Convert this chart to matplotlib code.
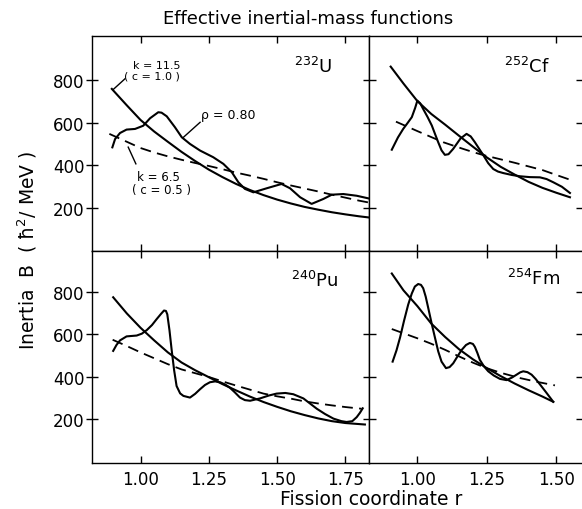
import numpy as np
import matplotlib
matplotlib.use("Agg")
import matplotlib.pyplot as plt
from matplotlib.ticker import FormatStrFormatter

plt.rcParams["font.family"] = ["DejaVu Sans"]
plt.rcParams["mathtext.default"] = "regular"

# ---- data (r, B in hbar^2/MeV) ----
# 232U
u_smooth_r = [0.895, 0.95, 1.00, 1.05, 1.10, 1.15, 1.20, 1.25, 1.30, 1.35, 1.40,
              1.45, 1.50, 1.55, 1.60, 1.65, 1.70, 1.75, 1.80, 1.833]
u_smooth_b = [757, 680, 612, 558, 510, 463, 420, 380, 345, 313, 285,
              261, 240, 222, 206, 193, 181, 171, 162, 157]
u_dash_r = [0.886, 0.95, 1.00, 1.05, 1.10, 1.15, 1.20, 1.25, 1.30, 1.35, 1.40,
            1.45, 1.50, 1.55, 1.60, 1.65, 1.70, 1.75, 1.80, 1.833]
u_dash_b = [547, 510, 481, 460, 442, 426, 411, 397, 382, 366, 352,
            337, 321, 306, 292, 278, 263, 249, 235, 227]
u_wig_r = [0.897, 0.907, 0.925, 0.949, 0.980, 1.010, 1.035, 1.065, 1.077, 1.096,
           1.126, 1.151, 1.181, 1.218, 1.266, 1.303, 1.334, 1.358, 1.382, 1.413,
           1.462, 1.516, 1.547, 1.584, 1.626, 1.669, 1.700, 1.742, 1.791, 1.833]
u_wig_b = [484, 523, 551, 567, 570, 585, 620, 648, 646, 629,
           578, 531, 500, 469, 438, 407, 368, 321, 290, 274,
           293, 313, 293, 251, 220, 243, 263, 266, 258, 246]

# 252Cf
cf_smooth_r = [0.904, 0.95, 1.00, 1.05, 1.10, 1.15, 1.20, 1.25, 1.30, 1.35, 1.40,
               1.45, 1.50, 1.549]
cf_smooth_b = [861, 782, 700, 640, 590, 538, 487, 437, 393, 357, 323,
               295, 272, 251]
cf_dash_r = [0.923, 1.00, 1.05, 1.093, 1.15, 1.20, 1.237, 1.30, 1.35, 1.40, 1.45,
             1.50, 1.549]
cf_dash_b = [604, 560, 532, 508, 483, 462, 448, 428, 412, 395, 378,
             355, 333]
cf_wig_r = [0.908, 0.930, 0.949, 0.965, 0.980, 0.992, 1.000, 1.010, 1.021, 1.037,
            1.052, 1.064, 1.075, 1.087, 1.099, 1.112, 1.129, 1.155, 1.177, 1.192,
            1.207, 1.222, 1.237, 1.255, 1.273, 1.290, 1.309, 1.340, 1.369, 1.405,
            1.441, 1.465, 1.489, 1.520, 1.549]
cf_wig_b = [473, 530, 570, 598, 625, 668, 702, 690, 663, 625,
            586, 545, 508, 470, 449, 452, 477, 525, 547, 535,
            508, 478, 448, 410, 383, 371, 364, 355, 349, 345,
            344, 336, 321, 300, 271]

# 240Pu
pu_smooth_r = [0.900, 0.95, 1.00, 1.05, 1.10, 1.15, 1.20, 1.25, 1.30, 1.35, 1.40,
               1.45, 1.50, 1.55, 1.60, 1.65, 1.70, 1.75, 1.821]
pu_smooth_b = [777, 700, 632, 572, 515, 467, 430, 397, 364, 334, 305,
               279, 256, 235, 217, 201, 188, 179, 172]
pu_dash_r = [0.898, 0.95, 1.00, 1.05, 1.10, 1.15, 1.20, 1.25, 1.30, 1.35, 1.40,
             1.45, 1.50, 1.55, 1.60, 1.65, 1.70, 1.75, 1.809]
pu_dash_b = [575, 545, 515, 487, 459, 434, 416, 398, 377, 357, 338,
             319, 306, 295, 282, 272, 263, 255, 247]
pu_wig_r = [0.900, 0.912, 0.925, 0.949, 0.986, 1.005, 1.023, 1.042, 1.059, 1.075,
            1.086, 1.093, 1.098, 1.106, 1.114, 1.123, 1.132, 1.145, 1.157, 1.181,
            1.200, 1.218, 1.236, 1.254, 1.273, 1.291, 1.310, 1.327, 1.345, 1.364,
            1.382, 1.401, 1.437, 1.470, 1.498, 1.530, 1.559, 1.596, 1.620, 1.645,
            1.675, 1.706, 1.735, 1.754, 1.775, 1.791, 1.803, 1.813]
pu_wig_b = [522, 550, 572, 591, 595, 604, 621, 645, 673, 698,
            714, 712, 696, 620, 526, 430, 355, 320, 308, 300,
            318, 340, 360, 373, 377, 373, 362, 347, 325, 300,
            288, 285, 296, 310, 319, 322, 316, 296, 272, 247,
            222, 200, 188, 184, 188, 207, 228, 249]

# 254Fm
fm_smooth_r = [0.908, 0.95, 1.00, 1.05, 1.10, 1.15, 1.20, 1.25, 1.30, 1.35, 1.40,
               1.45, 1.489]
fm_smooth_b = [890, 810, 735, 652, 588, 530, 482, 440, 402, 367, 335,
               305, 280]
fm_dash_r = [0.908, 1.00, 1.05, 1.10, 1.153, 1.20, 1.249, 1.30, 1.369, 1.43, 1.495]
fm_dash_b = [626, 582, 556, 527, 494, 466, 440, 418, 393, 375, 358]
fm_wig_r = [0.911, 0.925, 0.938, 0.952, 0.967, 0.980, 0.991, 1.003, 1.013, 1.021,
            1.030, 1.039, 1.051, 1.063, 1.075, 1.087, 1.103, 1.116, 1.129, 1.144,
            1.159, 1.175, 1.189, 1.200, 1.207, 1.216, 1.225, 1.240, 1.255, 1.275,
            1.297, 1.321, 1.340, 1.357, 1.370, 1.381, 1.396, 1.411, 1.426, 1.441,
            1.465, 1.489]
fm_wig_b = [471, 525, 587, 665, 742, 795, 828, 840, 836, 820,
            780, 727, 655, 587, 520, 471, 440, 445, 463, 495,
            526, 550, 560, 555, 541, 512, 479, 448, 425, 405,
            389, 383, 395, 409, 420, 425, 421, 409, 388, 363,
            322, 280]

nuclei = ["232", "252", "240", "254"]
symbols = ["U", "Cf", "Pu", "Fm"]
x_ticks_left = [1.00, 1.25, 1.50, 1.75]
x_ticks_right = [1.00, 1.25, 1.50]
y_ticks = [200, 400, 600, 800]

W, H = 582, 510
fig = plt.figure(figsize=(W / 100, H / 100), dpi=100)


def px_box(x0, y0, x1, y1):
    # pixel box (top-left origin) -> figure fraction rect
    return [x0 / W, 1 - y1 / H, (x1 - x0) / W, (y1 - y0) / H]


ax_u = fig.add_axes(px_box(92, 37, 369, 252))
ax_cf = fig.add_axes(px_box(369, 37, 583, 252))
ax_pu = fig.add_axes(px_box(92, 252, 369, 464))
ax_fm = fig.add_axes(px_box(369, 252, 583, 464))

panels = [
    (ax_u, u_smooth_r, u_smooth_b, u_dash_r, u_dash_b, u_wig_r, u_wig_b),
    (ax_cf, cf_smooth_r, cf_smooth_b, cf_dash_r, cf_dash_b, cf_wig_r, cf_wig_b),
    (ax_pu, pu_smooth_r, pu_smooth_b, pu_dash_r, pu_dash_b, pu_wig_r, pu_wig_b),
    (ax_fm, fm_smooth_r, fm_smooth_b, fm_dash_r, fm_dash_b, fm_wig_r, fm_wig_b),
]

label_pos = [(0.866, 0.833), (0.846, 0.833), (0.888, 0.835), (0.893, 0.844)]

for i, (ax, sr, sb, dr, db, wr, wb) in enumerate(panels):
    left = i in (0, 2)
    bottom = i in (2, 3)
    ax.plot(sr, sb, color="black", lw=1.5, solid_joinstyle="round")
    ax.plot(dr, db, color="black", lw=1.3, dashes=(6, 3.5))
    ax.plot(wr, wb, color="black", lw=1.5, solid_joinstyle="round")

    if left:
        ax.set_xlim(0.8225, 1.836)
        ax.set_xticks(x_ticks_left)
    else:
        ax.set_xlim(0.826, 1.596)
        ax.set_xticks(x_ticks_right)
    if bottom:
        ax.set_ylim(-11, 997)
    else:
        ax.set_ylim(0, 1004)
    ax.set_yticks(y_ticks)
    ax.xaxis.set_major_formatter(FormatStrFormatter("%.2f"))

    ax.tick_params(axis="x", direction="in", length=5, width=1, top=True, bottom=True,
                   labelbottom=bottom, labelsize=12, pad=5)
    ax.tick_params(axis="y", direction="inout" if left else "in",
                   length=9 if left else 5, width=1, left=True, right=True,
                   labelleft=left, labelsize=12, pad=1)
    for sp in ax.spines.values():
        sp.set_linewidth(1)

    lx, ly = label_pos[i]
    ax.text(lx, ly, r"$^{%s}$%s" % (nuclei[i], symbols[i]), transform=ax.transAxes,
            ha="right", va="baseline", fontsize=13)

# annotations in the 232U panel
ax_u.text(1.060, 869, "k = 11.5", fontsize=8, ha="center", va="center")
ax_u.text(1.042, 818, "( c = 1.0 )", fontsize=8, ha="center", va="center")
ax_u.plot([0.900, 0.943], [754, 804], color="black", lw=1)
ax_u.text(1.320, 636, "ρ = 0.80", fontsize=9, ha="center", va="center")
ax_u.plot([1.157, 1.218], [531, 601], color="black", lw=1)
ax_u.text(1.064, 350, "k = 6.5", fontsize=8.5, ha="center", va="center")
ax_u.text(1.075, 285, "( c = 0.5 )", fontsize=8.5, ha="center", va="center")
ax_u.plot([0.955, 0.983], [485, 407], color="black", lw=1)

fig.text(308 / W, 1 - 19 / H, "Effective inertial-mass functions", ha="center",
         va="center", fontsize=13)
fig.text(371 / W, 1 - 500 / H, "Fission coordinate r", ha="center", va="center",
         fontsize=13.5)
fig.text(27 / W, 1 - 250 / H, "Inertia  B  ( ħ$^2$/ MeV )", ha="center", va="center",
         rotation=90, fontsize=13.5)

fig.savefig("out.png", dpi=100)
